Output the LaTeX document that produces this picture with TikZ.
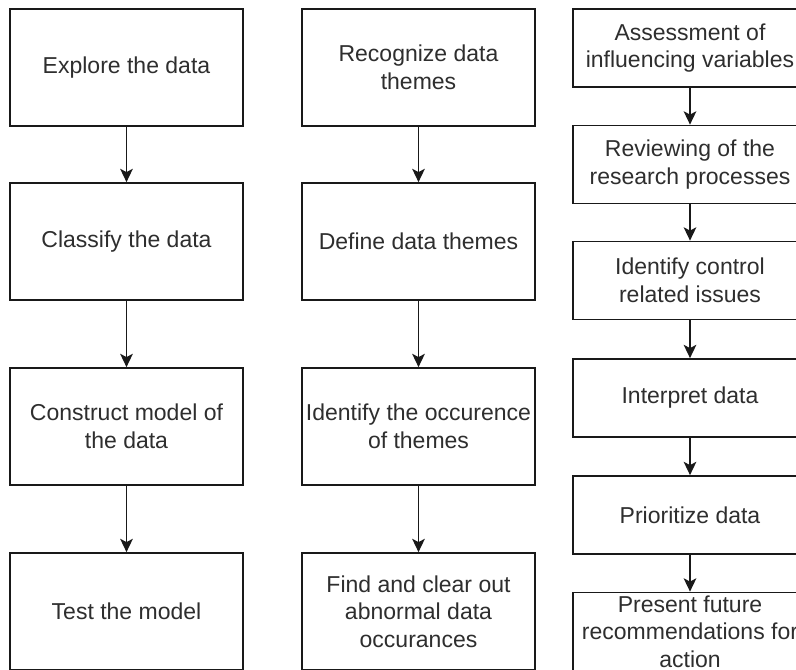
\documentclass[tikz,border=0pt]{standalone}
\usepackage{fontspec}
\setmainfont{Liberation Sans}
\usetikzlibrary{arrows.meta}
\begin{document}
\begin{tikzpicture}[x=0.75pt,y=-0.75pt,
  bigbox/.style={draw=black!90, line width=1.3pt, rectangle, inner sep=0pt,
    minimum width=174.75pt, minimum height=87.75pt, align=center,
    text=black!82, font=\fontsize{17.25pt}{20.7pt}\selectfont},
  smallbox/.style={bigbox, minimum width=175.5pt, minimum height=58.5pt},
  flow/.style={draw=black!90, line width=1.3pt, -{Stealth[length=10pt,width=9.5pt,inset=2.5pt]}}]
\useasboundingbox (0,0) rectangle (796,670);
\fill[white] (0,0) rectangle (796,670);
% column 1
\node[bigbox] (a1) at (126.5,67.5) {Explore the data};
\node[bigbox] (a2) at (126.5,241.5) {Classify the data};
\node[bigbox] (a3) at (126.5,426.5) {Construct model of\\the data};
\node[bigbox] (a4) at (126.5,611.5) {Test the model};
% column 2
\node[bigbox] (b1) at (418.5,67.5) {Recognize data\\themes};
\node[bigbox] (b2) at (418.5,241.5) {Define data themes};
\node[bigbox] (b3) at (418.5,426.5) {Identify the occurence\\of themes};
\node[bigbox] (b4) at (418.5,611.5) {Find and clear out\\abnormal data\\occurances};
% column 3
\node[smallbox] (c1) at (690,48) {Assessment of\\influencing variables};
\node[smallbox] (c2) at (690,164.5) {Reviewing of the\\research processes};
\node[smallbox] (c3) at (690,280.5) {Identify control\\related issues};
\node[smallbox] (c4) at (690,398) {Interpret data};
\node[smallbox] (c5) at (690,515) {Prioritize data};
\node[smallbox] (c6) at (690,631.5) {Present future\\recommendations for\\action};
% connectors
\draw[flow] (a1) -- (a2);
\draw[flow] (a2) -- (a3);
\draw[flow] (a3) -- (a4);
\draw[flow] (b1) -- (b2);
\draw[flow] (b2) -- (b3);
\draw[flow] (b3) -- (b4);
\draw[flow] (c1) -- (c2);
\draw[flow] (c2) -- (c3);
\draw[flow] (c3) -- (c4);
\draw[flow] (c4) -- (c5);
\draw[flow] (c5) -- (c6);
\end{tikzpicture}
\end{document}
